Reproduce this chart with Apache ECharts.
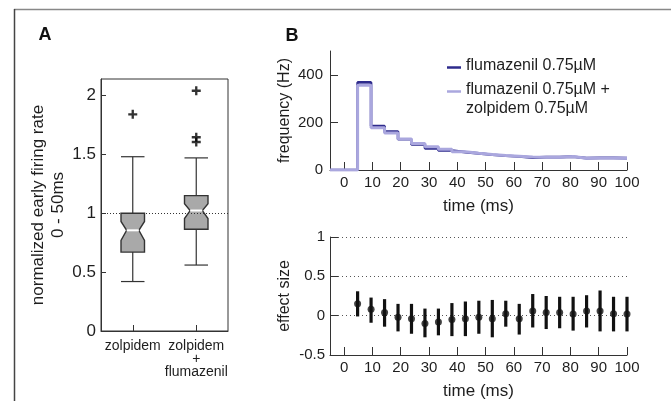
<!DOCTYPE html>
<html>
<head>
<meta charset="utf-8">
<title>zolpidem effect</title>
<script src="https://cdn.jsdelivr.net/npm/echarts@6.0.0/dist/echarts.min.js"></script>
<style>
  html, body { margin: 0; padding: 0; background: #fff; }
  #main { width: 671px; height: 401px; }
</style>
</head>
<body>
<div id="main"></div>
<script>
// panel A: notched boxes
var boxCats = ['zolpidem', 'zolpidem\n+\nflumazenil'];
var whiskerLow = [0.42, 0.56];
var q1 = [0.67, 0.864];
var notchLow = [0.77, 0.955];
var median = [0.855, 1.023];
var notchHigh = [0.93, 1.08];
var q3 = [1.0, 1.15];
var whiskerHigh = [1.48, 1.47];
var outlierCat = [0, 1, 1, 1];
var outlierVal = [1.84, 2.04, 1.645, 1.605];
var boxTicks = [0, 0.5, 1, 1.5, 2];

// panel B top: step histograms (Hz)
var stepX = [-5, 0, 4.76, 9.52, 14.29, 19.05, 23.81, 28.57, 33.33, 38.10, 42.86, 47.62, 52.38, 57.14, 61.90, 66.67, 71.43, 76.19, 80.95, 85.71, 90.48, 95.24, 100];
var fluHz = [0, 0, 368, 185, 162, 129, 107, 91, 82, 75, 70, 64, 60, 57, 52, 54, 54, 56, 50, 51, 51, 50, 50];
var fluZolHz = [0, 0, 356, 177, 155, 130, 111, 98, 87, 77, 70, 65, 61, 58, 55, 54, 54, 57, 49, 50, 50, 49, 49];
var timeTicks = [0, 10, 20, 30, 40, 50, 60, 70, 80, 90, 100];
var hzTicks = [0, 200, 400];

// panel B bottom: effect size
var effX = [4.76, 9.52, 14.29, 19.05, 23.81, 28.57, 33.33, 38.10, 42.86, 47.62, 52.38, 57.14, 61.90, 66.67, 71.43, 76.19, 80.95, 85.71, 90.48, 95.24, 100];
var effMean = [0.15, 0.08, 0.04, -0.02, -0.04, -0.1, -0.08, -0.05, -0.04, -0.02, -0.04, 0.025, -0.04, 0.06, 0.04, 0.04, 0.02, 0.06, 0.06, 0.025, 0.02];
var effLow = [-0.01, -0.09, -0.14, -0.2, -0.23, -0.275, -0.25, -0.26, -0.26, -0.23, -0.275, -0.14, -0.24, -0.15, -0.17, -0.16, -0.19, -0.15, -0.2, -0.2, -0.2];
var effHigh = [0.31, 0.23, 0.21, 0.15, 0.15, 0.09, 0.09, 0.16, 0.18, 0.19, 0.2, 0.19, 0.15, 0.275, 0.25, 0.24, 0.24, 0.26, 0.32, 0.24, 0.24];
var effTicks = [-0.5, 0, 0.5, 1];

var FONT = 'Liberation Sans, Arial, sans-serif';
var TXT = '#1e1e1e';
var AX = '#333';
var DARK = '#2e2b8c';
var LIGHT = '#aaa7de';

var byId = function (id) { return document.getElementById(id); };
var chart = echarts.init(byId('main'), null, { renderer: 'canvas' });

var boxData = boxCats.map(function (c, i) {
  return [i, whiskerLow[i], q1[i], notchLow[i], median[i], notchHigh[i], q3[i], whiskerHigh[i]];
});
var outlierData = outlierCat.map(function (c, i) { return [c, outlierVal[i]]; });
var fluData = stepX.map(function (x, i) { return [x, fluHz[i]]; });
var fluZolData = stepX.map(function (x, i) { return [x, fluZolHz[i]]; });
var effData = effX.map(function (x, i) { return [x, effMean[i]]; });
var errData = effX.map(function (x, i) { return [x, effLow[i], effHigh[i]]; });

function renderBox(params, api) {
  var idx = api.value(0);
  var half = api.size([1, 0])[0] * 0.185;
  var ind = half * 0.48;
  var p = function (v) { return api.coord([idx, v]); };
  var cx = p(0)[0];
  var yLo = p(api.value(1))[1], yQ1 = p(api.value(2))[1], yNL = p(api.value(3))[1];
  var yMed = p(api.value(4))[1], yNH = p(api.value(5))[1], yQ3 = p(api.value(6))[1];
  var yHi = p(api.value(7))[1];
  var L = cx - half, R = cx + half;
  var ln = { stroke: AX, lineWidth: 1.2 };
  return {
    type: 'group',
    children: [
      { type: 'line', shape: { x1: cx, y1: yQ3, x2: cx, y2: yHi }, style: ln },
      { type: 'line', shape: { x1: cx, y1: yQ1, x2: cx, y2: yLo }, style: ln },
      { type: 'line', shape: { x1: L, y1: yHi, x2: R, y2: yHi }, style: ln },
      { type: 'line', shape: { x1: L, y1: yLo, x2: R, y2: yLo }, style: ln },
      {
        type: 'polygon',
        shape: { points: [[L, yQ3], [R, yQ3], [R, yNH], [R - ind, yMed], [R, yNL], [R, yQ1],
                          [L, yQ1], [L, yNL], [L + ind, yMed], [L, yNH]] },
        style: { fill: '#a9a9a9', stroke: AX, lineWidth: 1.4 }
      },
      { type: 'line', shape: { x1: L + ind, y1: yMed, x2: R - ind, y2: yMed },
        style: { stroke: '#fff', lineWidth: 2 } }
    ]
  };
}

function renderErr(params, api) {
  var a = api.coord([api.value(0), api.value(1)]);
  var b = api.coord([api.value(0), api.value(2)]);
  return { type: 'line', shape: { x1: a[0], y1: a[1], x2: b[0], y2: b[1] },
           style: { stroke: '#111', lineWidth: 3.2 } };
}

var txt = { color: TXT, fontFamily: FONT };
var inTick = function (len, vals) {
  var t = { show: true, inside: true, length: len, lineStyle: { color: AX, width: 1 } };
  if (vals) t.customValues = vals;
  return t;
};
var axLine = { show: true, onZero: false, lineStyle: { color: AX, width: 1 } };

var option = {
  animation: false,
  backgroundColor: '#fff',
  textStyle: { fontFamily: FONT },
  grid: [
    { left: 101, top: 79, width: 127, height: 252, show: true, borderColor: AX, borderWidth: 1 },
    { left: 330, top: 51, width: 297, height: 119 },
    { left: 330, top: 237, width: 297, height: 119 }
  ],
  xAxis: [
    {
      gridIndex: 0, type: 'category', data: boxCats,
      axisLine: axLine,
      axisTick: { show: true, inside: true, length: 6, alignWithLabel: true, interval: 0, lineStyle: { color: AX } },
      axisLabel: Object.assign({ fontSize: 14, lineHeight: 13, margin: 9, interval: 0, hideOverlap: false }, txt),
      splitLine: { show: false }
    },
    {
      gridIndex: 1, type: 'value', min: -5, max: 100,
      name: 'time (ms)', nameLocation: 'middle', nameGap: 28,
      nameTextStyle: Object.assign({ fontSize: 17 }, txt),
      axisLine: axLine, axisTick: inTick(8, timeTicks),
      axisLabel: Object.assign({ fontSize: 15, margin: 5, customValues: timeTicks }, txt),
      splitLine: { show: false }
    },
    {
      gridIndex: 2, type: 'value', min: -5, max: 100,
      name: 'time (ms)', nameLocation: 'middle', nameGap: 28,
      nameTextStyle: Object.assign({ fontSize: 17 }, txt),
      axisLine: axLine, axisTick: inTick(8, timeTicks),
      axisLabel: Object.assign({ fontSize: 15, margin: 5, customValues: timeTicks }, txt),
      splitLine: { show: false }
    }
  ],
  yAxis: [
    {
      gridIndex: 0, type: 'value', min: 0, max: 2.14,
      name: 'normalized early firing rate\n0 - 50ms', nameLocation: 'middle', nameGap: 24,
      nameTextStyle: Object.assign({ fontSize: 17, lineHeight: 20 }, txt),
      axisLine: axLine, axisTick: inTick(5, boxTicks),
      axisLabel: Object.assign({ fontSize: 17, margin: 5, customValues: boxTicks }, txt),
      splitLine: { show: false }
    },
    {
      gridIndex: 1, type: 'value', min: 0, max: 500,
      name: 'frequency (Hz)', nameLocation: 'middle', nameGap: 37,
      nameTextStyle: Object.assign({ fontSize: 16 }, txt),
      axisLine: axLine, axisTick: inTick(8, hzTicks),
      axisLabel: Object.assign({ fontSize: 15, margin: 7, customValues: hzTicks }, txt),
      splitLine: { show: false }
    },
    {
      gridIndex: 2, type: 'value', min: -0.5, max: 1, interval: 0.5,
      name: 'effect size', nameLocation: 'middle', nameGap: 37,
      nameTextStyle: Object.assign({ fontSize: 16 }, txt),
      axisLine: axLine, axisTick: inTick(8),
      axisLabel: Object.assign({ fontSize: 15, margin: 5 }, txt),
      splitLine: { show: true, lineStyle: { color: '#555', type: [1, 3], width: 1 } }
    }
  ],
  series: [
    {
      type: 'line', xAxisIndex: 0, yAxisIndex: 0, data: [], z: 1, silent: true,
      markLine: {
        symbol: 'none', silent: true, label: { show: false },
        lineStyle: { color: '#333', type: [1, 2], width: 1 },
        data: [{ yAxis: 1 }]
      }
    },
    {
      type: 'custom', xAxisIndex: 0, yAxisIndex: 0, z: 3,
      renderItem: renderBox, data: boxData,
      encode: { x: 0, y: [1, 2, 3, 4, 5, 6, 7] }
    },
    {
      // outliers drawn as bold "+"
      type: 'scatter', xAxisIndex: 0, yAxisIndex: 0, z: 4, data: outlierData,
      symbol: 'path://M3.7,0H6.3V3.7H10V6.3H6.3V10H3.7V6.3H0V3.7H3.7Z', symbolSize: 9,
      itemStyle: { color: '#000' }
    },
    {
      name: 'flumazenil', type: 'line', xAxisIndex: 1, yAxisIndex: 1, data: fluData,
      step: 'end', showSymbol: false, z: 2,
      lineStyle: { color: DARK, width: 2.6 }
    },
    {
      name: 'flumazenil + zolpidem', type: 'line', xAxisIndex: 1, yAxisIndex: 1, data: fluZolData,
      step: 'end', showSymbol: false, z: 3,
      lineStyle: { color: LIGHT, width: 3 }
    },
    {
      type: 'custom', xAxisIndex: 2, yAxisIndex: 2, z: 3,
      renderItem: renderErr, data: errData, encode: { x: 0, y: [1, 2] }
    },
    {
      type: 'scatter', xAxisIndex: 2, yAxisIndex: 2, z: 4, data: effData,
      symbol: 'circle', symbolSize: 7, itemStyle: { color: '#111' }
    }
  ],
  graphic: [
    // figure frame
    { type: 'line', shape: { x1: 14, y1: 9.5, x2: 671, y2: 9.5 }, style: { stroke: '#888', lineWidth: 1.5 } },
    { type: 'line', shape: { x1: 14.5, y1: 9, x2: 14.5, y2: 401 }, style: { stroke: '#444', lineWidth: 1.5 } },
    // panel letters
    { type: 'text', x: 45, y: 35, style: { text: 'A', font: 'bold 18px ' + FONT, fill: '#111', align: 'center', verticalAlign: 'middle' } },
    { type: 'text', x: 292, y: 36, style: { text: 'B', font: 'bold 18px ' + FONT, fill: '#111', align: 'center', verticalAlign: 'middle' } },
    // legend
    { type: 'line', shape: { x1: 447, y1: 67.5, x2: 461, y2: 67.5 }, style: { stroke: DARK, lineWidth: 2.5 } },
    { type: 'line', shape: { x1: 447, y1: 91.5, x2: 461, y2: 91.5 }, style: { stroke: LIGHT, lineWidth: 2.5 } },
    { type: 'text', x: 466, y: 65.5, style: { text: 'flumazenil 0.75µM', font: '16px ' + FONT, fill: TXT, verticalAlign: 'middle' } },
    { type: 'text', x: 466, y: 89.5, style: { text: 'flumazenil 0.75µM +', font: '16px ' + FONT, fill: TXT, verticalAlign: 'middle' } },
    { type: 'text', x: 466, y: 109, style: { text: 'zolpidem 0.75µM', font: '16px ' + FONT, fill: TXT, verticalAlign: 'middle' } }
  ]
};

chart.setOption(option);
</script>
</body>
</html>
